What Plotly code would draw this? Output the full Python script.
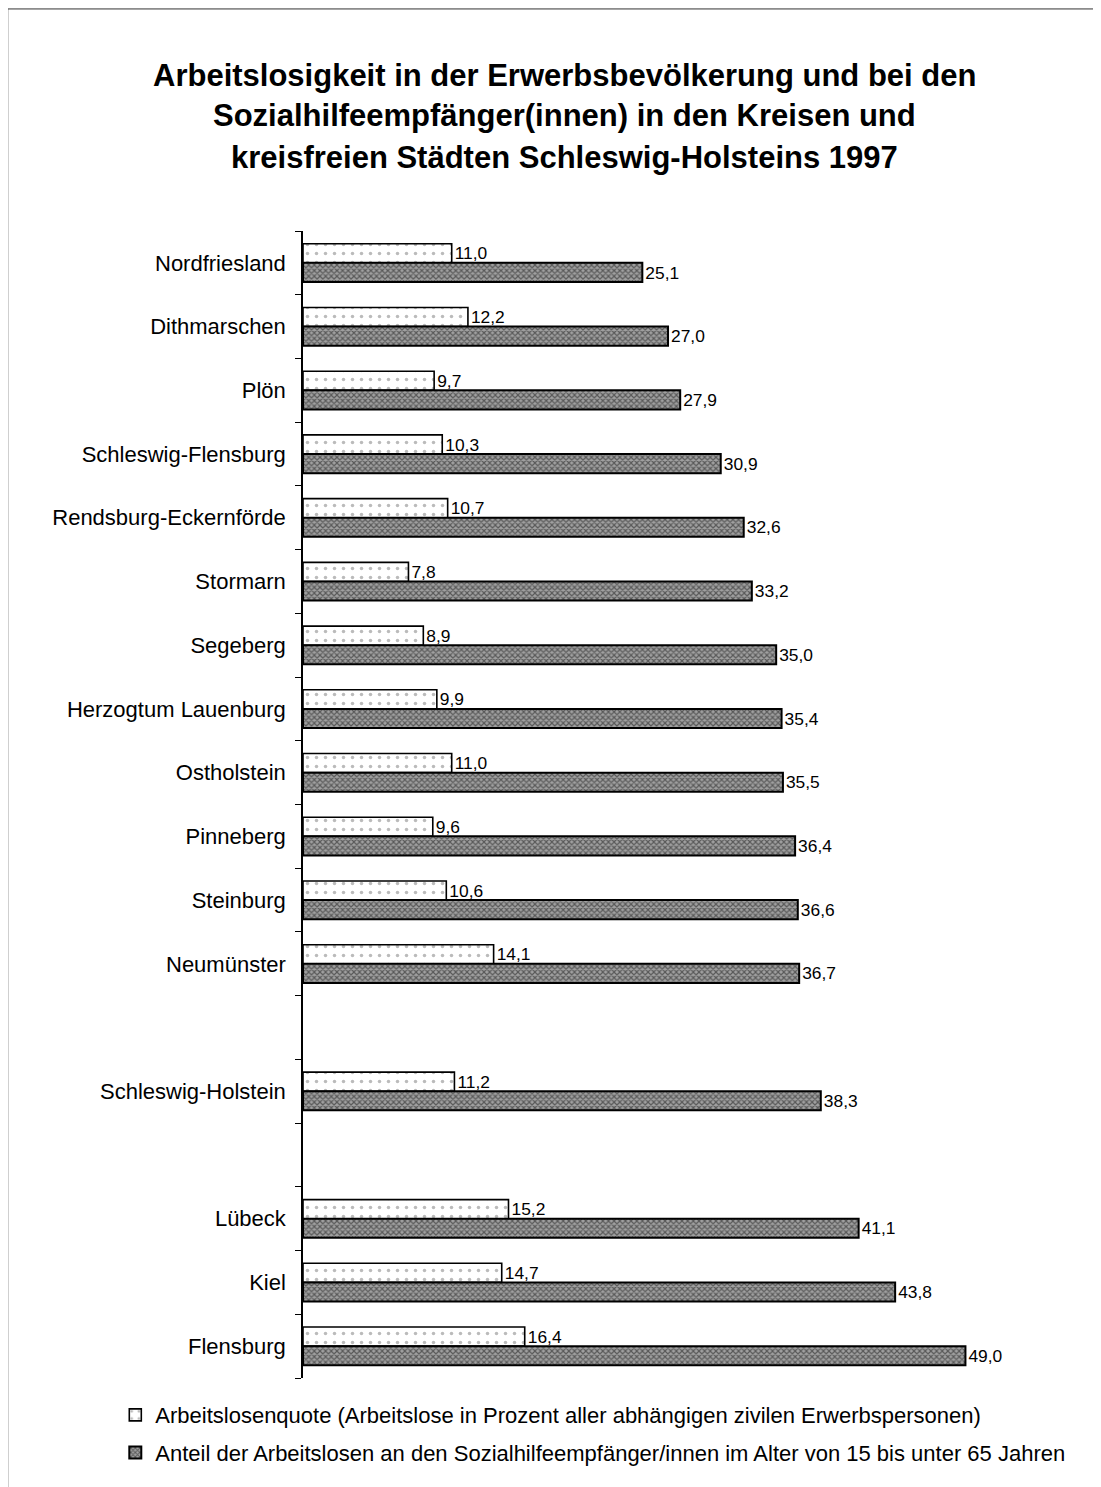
import plotly.graph_objects as go

# Kreise, Land, kreisfreie Städte (blocks separated by an empty row)
kreise = ["Nordfriesland", "Dithmarschen", "Plön", "Schleswig-Flensburg",
          "Rendsburg-Eckernförde", "Stormarn", "Segeberg", "Herzogtum Lauenburg",
          "Ostholstein", "Pinneberg", "Steinburg", "Neumünster"]
land = ["Schleswig-Holstein"]
staedte = ["Lübeck", "Kiel", "Flensburg"]

quote_kreise = [11.0, 12.2, 9.7, 10.3, 10.7, 7.8, 8.9, 9.9, 11.0, 9.6, 10.6, 14.1]
quote_land = [11.2]
quote_staedte = [15.2, 14.7, 16.4]

sozial_kreise = [25.1, 27.0, 27.9, 30.9, 32.6, 33.2, 35.0, 35.4, 35.5, 36.4, 36.6, 36.7]
sozial_land = [38.3]
sozial_staedte = [41.1, 43.8, 49.0]

legend_quote = "Arbeitslosenquote (Arbeitslose in Prozent aller abhängigen zivilen Erwerbspersonen)"
legend_sozial = "Anteil der Arbeitslosen an den Sozialhilfeempfänger/innen im Alter von 15 bis unter 65 Jahren"
title_lines = ["Arbeitslosigkeit in der Erwerbsbevölkerung und bei den",
               "Sozialhilfeempfänger(innen) in den Kreisen und",
               "kreisfreien Städten Schleswig-Holsteins 1997"]

# row positions with one empty row between the blocks
names, quote, sozial, pos = [], [], [], []
row = 0
for block_names, block_q, block_s in [(kreise, quote_kreise, sozial_kreise),
                                      (land, quote_land, sozial_land),
                                      (staedte, quote_staedte, sozial_staedte)]:
    for n, q, s in zip(block_names, block_q, block_s):
        names.append(n)
        quote.append(q)
        sozial.append(s)
        pos.append(row)
        row += 1
    row += 1
last_row = pos[-1]

FONT = "Liberation Sans, Arial, sans-serif"

fig = go.Figure()
fig.add_trace(go.Bar(
    y=pos, x=quote, orientation="h", name=legend_quote,
    legendgroup="a",
    marker=dict(color="white", line=dict(color="black", width=1.6),
                pattern=dict(shape=".", fgcolor="#777", bgcolor="white",
                             size=9, solidity=0.12)),
    texttemplate="%{x:.1f}", textposition="outside",
    textfont=dict(size=20, color="black", family=FONT),
))
fig.add_trace(go.Bar(
    y=pos, x=sozial, orientation="h", name=legend_sozial,
    legendgroup="b",
    marker=dict(color="#888", line=dict(color="black", width=2),
                pattern=dict(shape="x", fgcolor="#111", bgcolor="#a0a0a0",
                             size=4, solidity=0.5)),
    texttemplate="%{x:.1f}", textposition="outside",
    textfont=dict(size=20, color="black", family=FONT),
))

title_y = [1.136, 1.1003, 1.0645]
for line, ty in zip(title_lines, title_y):
    fig.add_annotation(
        text=line, xref="paper", yref="paper", x=0.372, y=ty,
        xanchor="center", yanchor="middle", showarrow=False,
        font=dict(size=31, color="black", family=FONT, weight="bold"),
    )

# scan frame (top and left edge)
fig.add_shape(type="line", xref="paper", yref="paper", x0=-0.42, x1=1.14,
              y0=1.1936, y1=1.1936, line=dict(color="#333", width=1))
fig.add_shape(type="line", xref="paper", yref="paper", x0=-0.42, x1=-0.42,
              y0=1.1936, y1=-0.1, line=dict(color="#333", width=1))

fig.update_layout(
    width=1093, height=1479,
    margin=dict(l=295, r=95, t=223, b=109),
    plot_bgcolor="white", paper_bgcolor="white",
    barmode="group", bargap=0.4, bargroupgap=0,
    separators=",.",
    font=dict(family=FONT, color="black", size=22),
    showlegend=True,
    legend=dict(x=-0.267, y=-0.014, xanchor="left", yanchor="top",
                orientation="v", traceorder="grouped", tracegroupgap=6,
                font=dict(size=22, family=FONT), itemwidth=30,
                bgcolor="rgba(0,0,0,0)"),
)
fig.update_xaxes(range=[0, 52], showgrid=False, showticklabels=False,
                 zeroline=False, showline=False, ticks="")
fig.update_yaxes(range=[last_row + 0.5, -0.5], tickmode="array", tickvals=pos,
                 ticktext=names, ticks="", showgrid=False, zeroline=False,
                 showline=True, linecolor="black", linewidth=1.5,
                 ticklabelstandoff=11, tickfont=dict(size=22, family=FONT),
                 minor=dict(tickmode="linear", tick0=0.5, dtick=1,
                            ticks="outside", ticklen=6, tickcolor="black",
                            showgrid=False))

fig.write_html("out.html")
